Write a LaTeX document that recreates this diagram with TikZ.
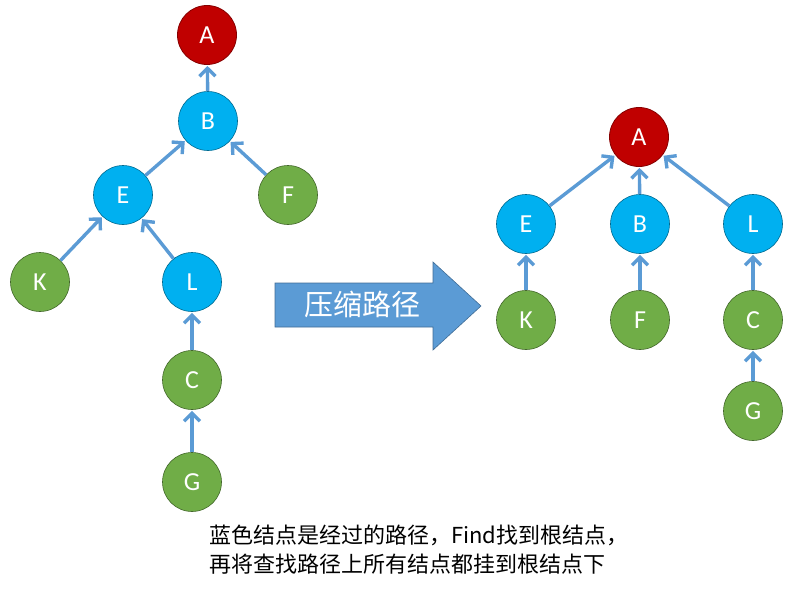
\documentclass[tikz,border=0pt]{standalone}
\usepackage{fontspec}
\setmainfont{Carlito}
\newfontfamily\cjk{Noto Sans CJK SC}
\usetikzlibrary{arrows.meta}
\definecolor{nred}{HTML}{C00000}
\definecolor{nblue}{HTML}{00B0F0}
\definecolor{ngreen}{HTML}{70AD47}
\definecolor{edgec}{HTML}{5B9BD5}
\definecolor{arrfill}{HTML}{5B9BD5}
\begin{document}
\begin{tikzpicture}[x=1pt,y=-1pt,
  nd/.style={circle,minimum size=59pt,inner sep=0pt,text=white,font=\fontsize{26}{28}\selectfont},
  rn/.style={nd,fill=nred,draw=nred!70!black,line width=0.8pt},
  bn/.style={nd,fill=nblue,draw=nblue!60!black,line width=0.6pt},
  gn/.style={nd,fill=ngreen,draw=ngreen!60!black,line width=0.6pt},
  ed/.style={draw=edgec,line width=3.4pt,-{Straight Barb[length=8pt,width=16pt,line width=3.4pt]},shorten >=1pt}]
\useasboundingbox (0,0) rectangle (797,594);
% left tree
\node[rn] (A1) at (207,35) {A};
\node[bn] (B1) at (208,121) {B};
\node[bn] (E1) at (123,195) {E};
\node[gn] (F1) at (288,195) {F};
\node[gn] (K1) at (40,282) {K};
\node[bn] (L1) at (192,282) {L};
\node[gn] (C1) at (192,380) {C};
\node[gn] (G1) at (192,482) {G};
\draw[ed] (B1) -- (A1);
\draw[ed] (E1) -- (B1);
\draw[ed] (F1) -- (B1);
\draw[ed] (K1) -- (E1);
\draw[ed] (L1) -- (E1);
\draw[ed] (C1) -- (L1);
\draw[ed] (G1) -- (C1);
% block arrow
\draw[fill=arrfill,draw=arrfill!70!black,line width=0.6pt]
  (275,283) -- (433,283) -- (433,262) -- (481,306) -- (433,350) -- (433,327) -- (275,327) -- cycle;
\node[text=white,font=\cjk\fontsize{29}{31}\selectfont] (lab) at (362,304) {压缩路径};
% right tree
\node[rn] (A2) at (639,137) {A};
\node[bn] (E2) at (526,224) {E};
\node[bn] (B2) at (640,224) {B};
\node[bn] (L2) at (753,224) {L};
\node[gn] (K2) at (526,320) {K};
\node[gn] (F2) at (640,320) {F};
\node[gn] (C2) at (753,320) {C};
\node[gn] (G2) at (753,411) {G};
\draw[ed] (E2) -- (A2);
\draw[ed] (B2) -- (A2);
\draw[ed] (L2) -- (A2);
\draw[ed] (K2) -- (E2);
\draw[ed] (F2) -- (B2);
\draw[ed] (C2) -- (L2);
\draw[ed] (G2) -- (C2);
% caption
\node[anchor=north west,align=left,inner sep=0pt,font=\cjk\fontsize{22}{29}\selectfont] (cap) at (209,525)
  {蓝色结点是经过的路径，Find找到根结点，\\再将查找路径上所有结点都挂到根结点下};
\end{tikzpicture}
\end{document}
